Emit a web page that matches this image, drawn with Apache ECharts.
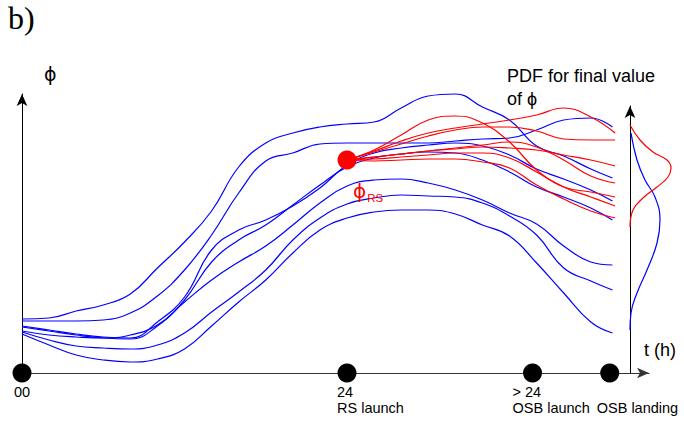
<!DOCTYPE html>
<html>
<head>
<meta charset="utf-8">
<script src="https://cdn.jsdelivr.net/npm/echarts/dist/echarts.min.js"></script>
<style>html,body{margin:0;padding:0;background:#fff}#c{width:684px;height:423px}</style>
</head>
<body>
<div id="c"></div>
<script>
// ---- data (t in hours, phi in arbitrary units) ----
const tHours = [0,2,4,6,8,10,12,14,16,18,20,22,24,26,28,30,32,34,36,38,40,42,43.6];
const phiA  = [27,27.5,31,34,39.5,52.5,65.5,81,103,115,120,123,124.5,125.5,132.5,138.5,139.5,133,126.5,113.5,108.5,102,97.5];
const phiB  = [26,26,26,26.5,30,38.5,51.5,69,90,106,110,114.5,115,115,115,115,116,117,117.5,121.5,126.5,127.5,123];
const phiC  = [23.5,21.5,19.5,18,17.5,25.5,38,61.5,71.5,76.5,83.5,92.5,104,110,112.5,114,115,113.5,109,102,97,91.5,86];
const phiC2 = [23,21,19,17.5,17,23.5,36.5,55.5,66.5,74,84,94,103,107.5,109.5,110.5,110,106.5,100.5,93,88,82.5,76.5];
const phiD  = [21,19,18,17.5,19,24,35.5,46.5,55.5,63.5,74,85,93.5,96.5,97,95,91.5,86.5,80,74.5,63.5,55.5,54];
const phiE  = [20.5,16.5,13.5,12.5,12,14,20,30.5,40.5,51.5,66.5,77.5,84.5,87.5,89,88.5,88,85,78.5,69,52.5,46,41.5];
const phiF  = [19.5,14,9,6.5,5.5,7,12,23.5,35.5,46.5,60,71.5,77.5,80.5,81.5,81.5,79.5,74,68.5,55,40,25.5,20];

const redT  = [24,26,28,30,32,34,36,38,40,42,43.8];
const phiR1 = [106.5,111,116,120,122.5,124.5,126.5,129,132.5,128,120];
const phiR2 = [106.5,110.5,114.5,118.5,121.5,123,123,121,117,116.5,116.5];
const phiR3 = [106.5,111.5,119,126.5,128.5,125,115.5,101.5,93,88,83.5];
const phiR4 = [106.5,108,109.5,111,112,113,112.5,111.5,109,106.5,103.5];
const phiR5 = [106.5,108,109.5,111,112.5,114,115.5,113,106.5,98.5,95];
const phiR6 = [106.5,107,108,109,110,110,107.5,100.5,93,90.5,88];
const phiR7 = [106.5,106,106.5,107,107,105.5,102.5,94,87,81,77.5];

const rsT = 24, rsPhi = 106.5;

const pdfRedPhi      = [124,116.5,110.5,106.5,102.5,98,93,87.5,81.5,73];
const pdfRedDensity  = [0,0.2,0.46,0.74,0.82,0.76,0.54,0.26,0.06,0];
const pdfBluePhi     = [120,106.5,96.5,88,76.5,65,51.5,40,30,21.5];
const pdfBlueDensity = [0.02,0.14,0.3,0.5,0.6,0.54,0.34,0.14,0.02,0];

const eventT      = [0,24,37.7,43.4];
const eventLine1  = ['00','24','> 24',''];
const eventLine2  = ['','RS launch','OSB launch','OSB landing'];

// ---- build ----
const zip = (xs, ys) => xs.map((x,i)=>[x, ys[i]]);
const BLUE = '#0000ff', RED = '#ff0000';
const SANS = '"Liberation Sans", Arial, sans-serif';

function line(data, color, xi, z){
  return {type:'line', xAxisIndex:xi, yAxisIndex:xi, data, showSymbol:false, smooth:0.45,
    lineStyle:{color, width:1.2}, clip:false, silent:true, z, animation:false};
}
const series = [];
[phiA,phiB,phiC,phiC2,phiD,phiE,phiF].forEach(p=>series.push(line(zip(tHours,p), BLUE, 0, 2)));
[phiR1,phiR2,phiR3,phiR4,phiR5,phiR6,phiR7].forEach(p=>series.push(line(zip(redT,p), RED, 0, 3)));
series.push(line(zip(pdfRedDensity,pdfRedPhi), RED, 1, 3));
series.push(line(zip(pdfBlueDensity,pdfBluePhi), BLUE, 1, 2));

const labelOffsets = [[0,0],[-10,0],[-20,0],[-13,0]];
series.push({type:'scatter', xAxisIndex:0, yAxisIndex:0, symbolSize:19, clip:false, z:5,
  itemStyle:{color:'#000', opacity:1},
  emphasis:{disabled:true},
  data: eventT.map((t,i)=>({value:[t,0], label:{show:true, position:'bottom', distance:1,
    align: i===0 ? 'center':'left', offset: labelOffsets[i], lineHeight:16,
    fontSize:14.5, fontFamily:SANS, color:'#000',
    formatter: eventLine1[i] + '\n' + eventLine2[i]}}))
});
series.push({type:'scatter', xAxisIndex:0, yAxisIndex:0, symbolSize:19, clip:false, z:6,
  itemStyle:{color:RED, opacity:1},
  emphasis:{disabled:true},
  data:[{value:[rsT,rsPhi]}],
  label:{show:true, position:'bottom', align:'left', offset:[6,3],
    formatter:'{a|ϕ}{b|RS}',
    rich:{a:{fontSize:20, color:RED, fontFamily:'"DejaVu Sans", sans-serif'},
          b:{fontSize:11.5, color:RED, fontFamily:SANS, padding:[14,0,0,1]}}}
});

const axisOff = {axisTick:{show:false}, axisLabel:{show:false}, splitLine:{show:false}};
const option = {
  animation:false,
  grid:[{left:22, top:94, bottom:50, right:35},
        {left:630, top:106, bottom:50, right:4}],
  xAxis:[Object.assign({gridIndex:0, type:'value', min:0, max:46.3,
          axisLine:{show:true, onZero:false, symbol:['none','arrow'], symbolSize:[8,12], lineStyle:{color:'#333', width:1}}}, axisOff),
         Object.assign({gridIndex:1, type:'value', min:0, max:1, show:false}, axisOff)],
  yAxis:[Object.assign({gridIndex:0, type:'value', min:0, max:139.5,
          axisLine:{show:true, onZero:false, symbol:['none','arrow'], symbolSize:[8,12], lineStyle:{color:'#000', width:1}}}, axisOff),
         Object.assign({gridIndex:1, type:'value', min:0, max:133.5,
          axisLine:{show:true, onZero:false, symbol:['none','arrow'], symbolSize:[8,12], lineStyle:{color:'#000', width:1}}}, axisOff)],
  graphic:[
    {type:'text', left:8, top:2, style:{text:'b)', fontSize:32, fontFamily:'"Liberation Serif", serif', fill:'#000'}},
    {type:'text', left:44, top:64, style:{text:'ϕ', fontSize:19, fontFamily:'"DejaVu Sans", sans-serif', fill:'#000'}},
    {type:'text', left:507, top:64, style:{text:'PDF for final value\nof ϕ', fontSize:18, lineHeight:23, fontFamily:SANS, fill:'#000'}},
    {type:'text', left:644, top:341, style:{text:'t (h)', fontSize:18, fontFamily:SANS, fill:'#000'}}
  ],
  series
};
const chart = echarts.init(document.getElementById('c'), null, {renderer:'svg'});
chart.setOption(option);
</script>
</body>
</html>
